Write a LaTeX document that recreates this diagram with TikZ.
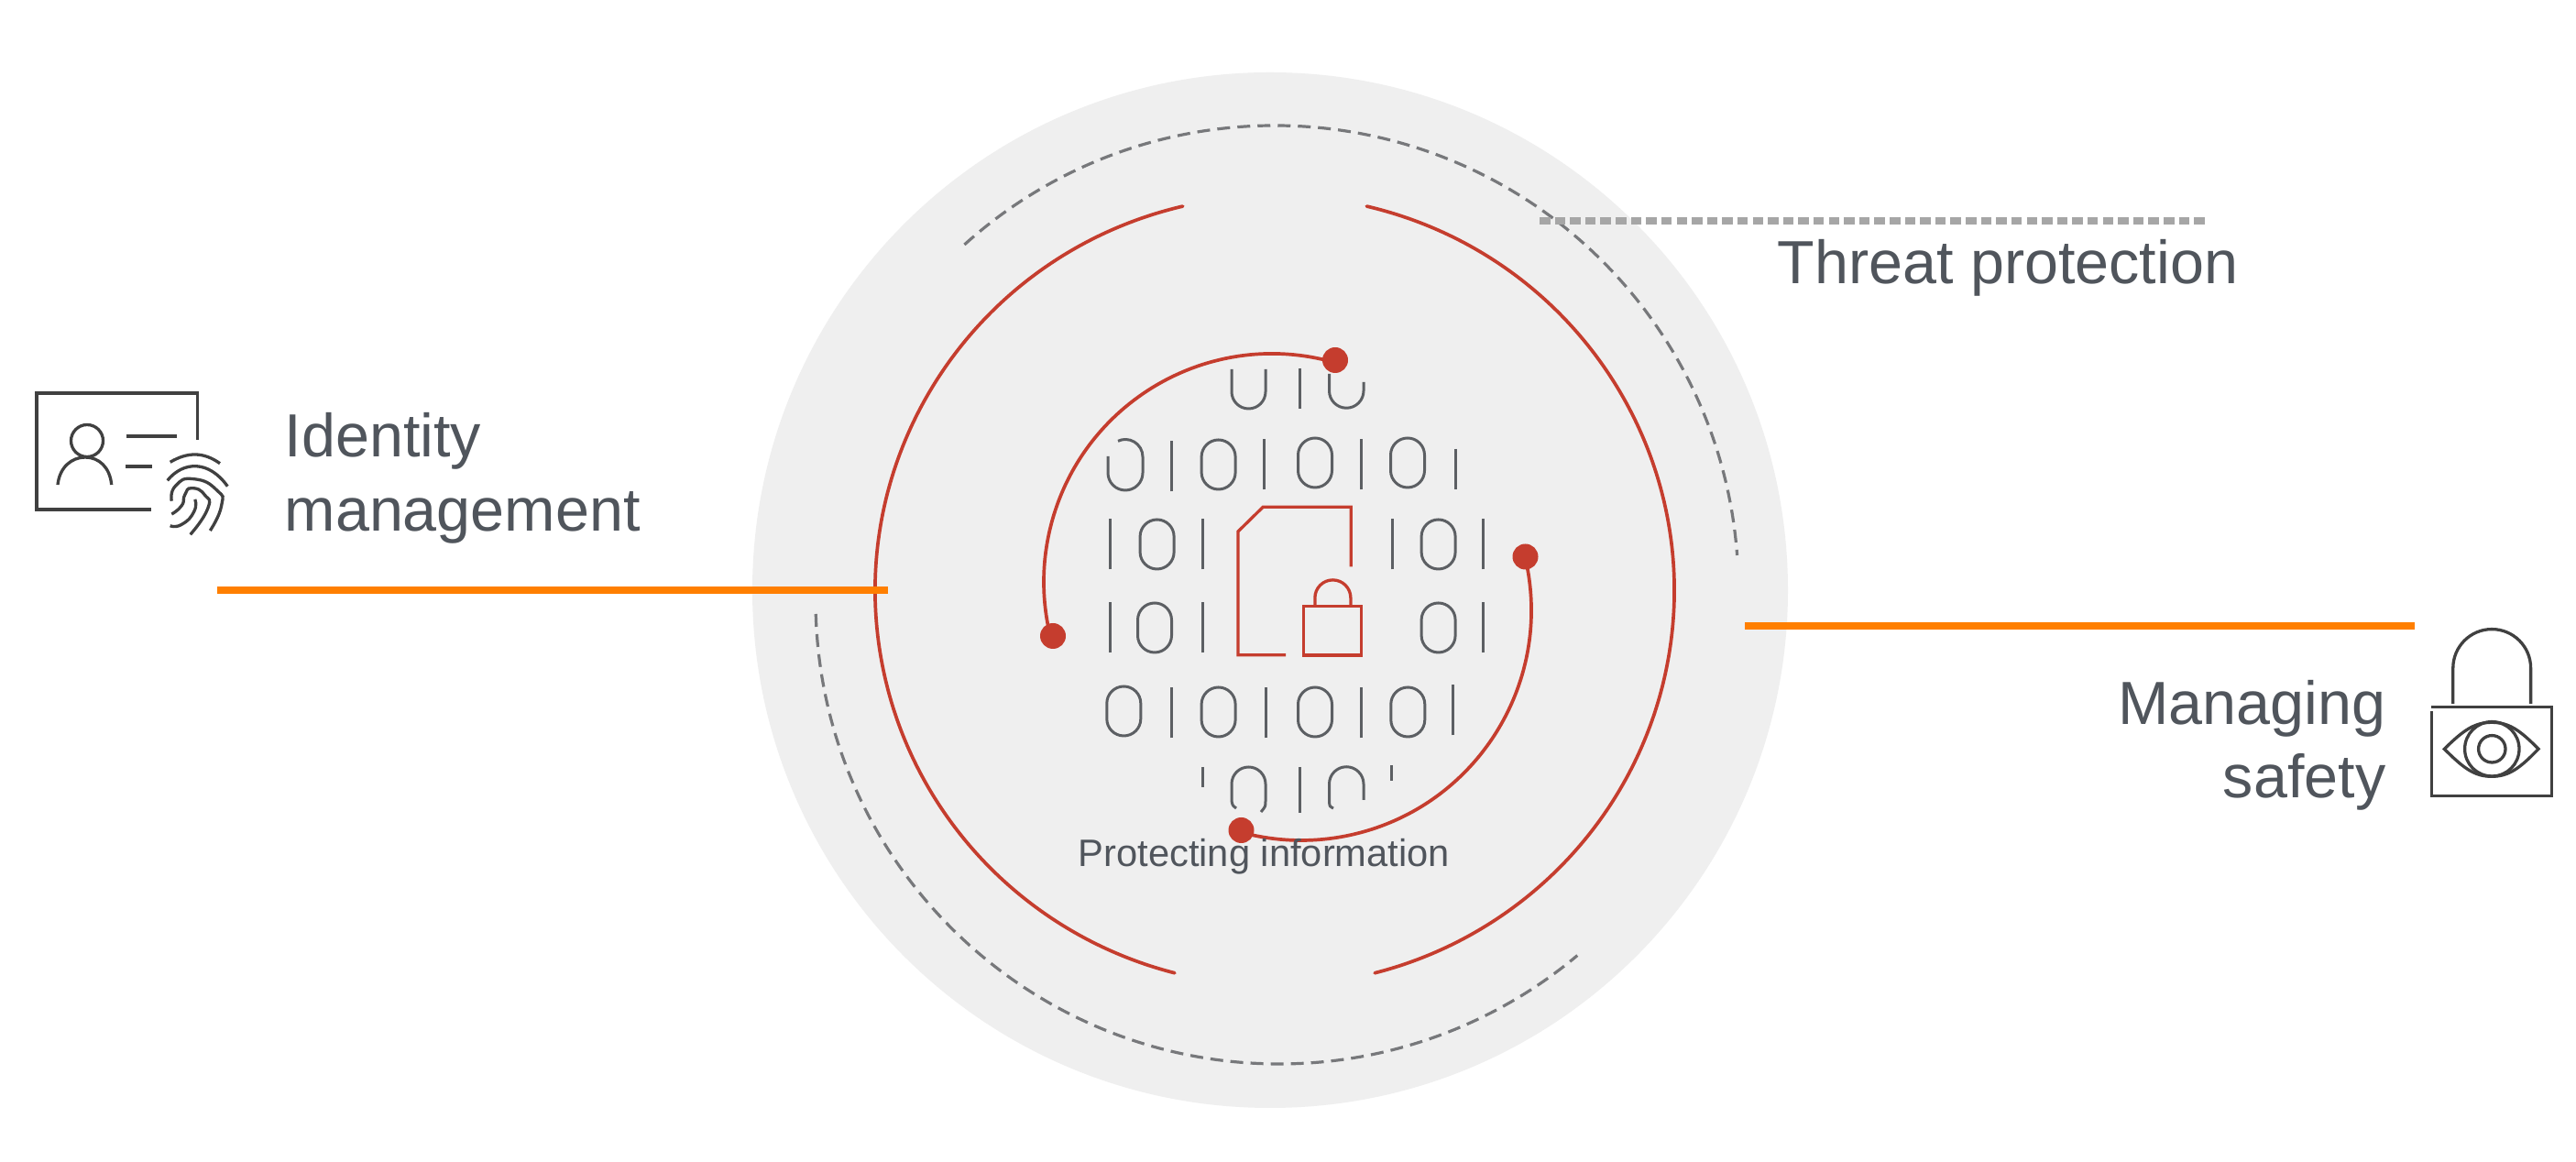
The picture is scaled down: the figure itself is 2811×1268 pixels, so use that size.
\documentclass[tikz,border=0pt]{standalone}
\usepackage{fontspec}
\setmainfont{Liberation Sans}
\definecolor{disc}{HTML}{EFEFEF}
\definecolor{ink}{HTML}{50555C}
\definecolor{rust}{HTML}{C53D2E}
\definecolor{amber}{HTML}{FF7F00}
\definecolor{ashline}{HTML}{77787B}
\definecolor{dotline}{HTML}{A6A6A6}
\definecolor{icon}{HTML}{404040}
\definecolor{bits}{HTML}{5C5F63}
\tikzset{
  ring/.style={draw=rust, line width=0.37mm, line cap=round},
  dash ring/.style={draw=ashline, line width=0.32mm, dash pattern=on 1.4mm off 0.8mm},
  bar/.style={draw=amber, line width=0.8mm},
  dotbar/.style={draw=dotline, line width=0.8mm, dash pattern=on 1.15mm off 0.51mm},
  redline/.style={draw=rust, line width=0.33mm, line join=miter},
  bitline/.style={draw=bits, line width=0.3mm},
  iconline/.style={draw=icon, line width=0.33mm, line join=miter},
  enddot/.style={circle, fill=rust, inner sep=0pt, minimum size=2.8mm},
  biglab/.style={text=ink, inner sep=0pt, font=\fontsize{18.9}{23.05}\selectfont},
  smalllab/.style={text=ink, inner sep=0pt, font=\fontsize{11.85}{14}\selectfont},
  zerodigit/.pic={\draw[bitline] (-18.5,-8.5) -- (-18.5,8.5) arc[start angle=180, end angle=0, radius=18.5] -- (18.5,-8.5) arc[start angle=0, end angle=-180, radius=18.5] -- cycle;},
  onedigit/.pic={\draw[bitline] (0,-27.5) -- (0,27.5);},
}
\begin{document}
\begin{tikzpicture}[x=0.01cm,y=0.01cm]
  \useasboundingbox (0,0) rectangle (2811,-1268);
  \fill[white] (0,0) rectangle (2811,-1268);

  \fill[disc] (1386,-644) circle (565);

  % outer red ring
  \draw[ring] ([shift={(1391,-644.5)}]76.7:436 and 431) arc[start angle=76.7, end angle=-75.5, x radius=436, y radius=431];
  \draw[ring] ([shift={(1391,-644.5)}]103.3:436 and 431) arc[start angle=103.3, end angle=255.5, x radius=436, y radius=431];

  % dashed ring
  \draw[dash ring] ([shift={(1391,-643)}]132:506) arc[start angle=132, end angle=4.2, radius=506];
  \draw[dash ring] ([shift={(1396,-655)}]181.7:506) arc[start angle=181.7, end angle=310, radius=506];

  % inner arcs with dots
  \node[enddot] (dotA) at (1149,-694) {};
  \node[enddot] (dotB) at (1457,-393) {};
  \node[enddot] (dotC) at (1664.5,-607.5) {};
  \node[enddot] (dotD) at (1354.5,-906) {};
  \draw[ring] ([shift={(1388,-635)}]74:249) arc[start angle=74, end angle=194, radius=249];
  \draw[ring] ([shift={(1420,-666)}]13.3:251) arc[start angle=13.3, end angle=-105.2, radius=251];

  % binary digits
  \foreach \x/\y in {1329.6/-507,1435/-505,1536/-505,
                     1262.6/-594,1569.6/-594,
                     1260/-685,1569.6/-685,
                     1226.3/-776,1329.6/-777,1435/-777,1536.3/-777}
    \pic at (\x,\y) {zerodigit};
  \foreach \x/\y in {1278.7/-509,1379.4/-507,1485.8/-507,
                     1211.4/-594,1312.8/-594,1519.8/-594,1618.6/-594,
                     1211.4/-685,1312.8/-685,1618.6/-685,
                     1278.7/-778,1381.3/-778,1485.8/-778,1585.3/-775}
    \pic at (\x,\y) {onedigit};

  % partial digits
  \draw[bitline] (1344,-403) -- (1344,-427.5) arc[start angle=180, end angle=360, radius=18.5] -- (1381,-403);
  \draw[bitline] (1418.4,-402) -- (1418.4,-446);
  \draw[bitline] (1450.5,-408) -- (1450.5,-426.5) arc[start angle=180, end angle=360, radius=18.75] -- (1488,-417);
  \draw[bitline] (1588,-490) -- (1588,-534);
  \draw[bitline] (1209,-498) -- (1209,-516) arc[start angle=180, end angle=360, radius=19] -- (1247,-498.5) arc[start angle=0, end angle=115, radius=19];
  \draw[bitline] (1312.8,-837) -- (1312.8,-859);
  \draw[bitline] (1349,-882) .. controls (1345,-879) .. (1344,-874) -- (1344,-855.5) arc[start angle=180, end angle=0, radius=18.5] -- (1381,-874) .. controls (1381,-880) .. (1376,-886);
  \draw[bitline] (1418.4,-837) -- (1418.4,-887);
  \draw[bitline] (1455,-882) .. controls (1451,-880) .. (1450.5,-875) -- (1450.5,-855.5) arc[start angle=180, end angle=0, radius=18.75] -- (1488,-873);
  \draw[bitline] (1518.3,-835) -- (1518.3,-852);

  % document with lock
  \draw[redline] (1474.3,-618.3) -- (1474.3,-553.3) -- (1378.2,-553.3) -- (1351,-580) -- (1351,-714.8) -- (1403,-714.8);
  \draw[redline] (1422.2,-661.6) rectangle (1485.4,-715.1);
  \draw[redline] (1434.9,-661.6) -- (1434.9,-652.4) arc[start angle=180, end angle=0, radius=19.5] -- (1473.9,-661.6);

  % orange and dotted bars
  \coordinate (leftA) at (237,-644);
  \coordinate (leftB) at (969,-644);
  \coordinate (rightA) at (1904,-683);
  \coordinate (rightB) at (2635,-683);
  \coordinate (topA) at (1680,-241);
  \coordinate (topB) at (2407,-241);
  \draw[bar] (leftA) -- (leftB);
  \draw[bar] (rightA) -- (rightB);
  \draw[dotbar] (topA) -- (topB);

  % labels
  \node[biglab,anchor=base west] (threat) at (1939,-310) {Threat protection};
  \node[biglab,anchor=base west] (identA) at (310,-499) {Identity};
  \node[biglab,anchor=base west] (identB) at (310,-580) {management};
  \node[biglab,anchor=base east] (safeA) at (2604,-791) {Managing};
  \node[biglab,anchor=base east] (safeB) at (2604,-871) {safety};
  \node[smalllab,anchor=base west] (protect) at (1176,-946) {Protecting information};

  % id card icon
  \draw[iconline] (215.8,-480) -- (215.8,-429) -- (40,-429) -- (40,-556) -- (165,-556);
  \draw[iconline] (95,-481) circle (17.5);
  \draw[iconline] (63,-529) .. controls (65,-510) and (78,-499) .. (93,-499) .. controls (108,-499) and (120,-510) .. (121.7,-529);
  \draw[iconline] (137.7,-476) -- (192.8,-476);
  \draw[iconline] (136.8,-509) -- (166,-509);
  \draw[iconline] (185.7,-504.3) .. controls (205,-493) and (222,-493) .. (240,-505.7);
  \draw[iconline] (182.7,-524.3) .. controls (200,-503) and (228,-502) .. (248.3,-530.7);
  \draw[iconline] plot[smooth,tension=1] coordinates {(187.3,-546.7) (191.7,-530) (211.7,-522.7) (236.7,-535) (241.7,-551.7) (229.3,-579)};
  \draw[iconline] plot[smooth,tension=1] coordinates {(187.3,-561) (198.3,-551.7) (201.7,-540) (209.3,-532.7) (223.3,-540) (226.7,-555) (207.7,-583.3)};
  \draw[iconline] plot[smooth,tension=1] coordinates {(212.7,-545) (211.7,-558.3) (198.3,-572.3) (185.7,-573.7)};

  % lock with eye icon
  \draw[iconline] (2653.3,-771.7) -- (2784.3,-771.7) -- (2784.3,-868.3) -- (2653.3,-868.3) -- (2653.3,-776);
  \draw[iconline] (2676.8,-768) -- (2676.8,-729) arc[start angle=180, end angle=0, radius=42.4] -- (2761.6,-768);
  \draw[iconline] (2667.3,-817.3) .. controls (2688,-797) and (2700,-788.3) .. (2719,-788.3) .. controls (2738,-788.3) and (2750,-797) .. (2770,-817.3)
    .. controls (2750,-838) and (2738,-847.3) .. (2719,-847.3) .. controls (2700,-847.3) and (2688,-838) .. cycle;
  \draw[iconline] (2719.3,-817.3) circle (29.7);
  \draw[iconline] (2719.3,-817.3) circle (14.7);
\end{tikzpicture}
\end{document}
